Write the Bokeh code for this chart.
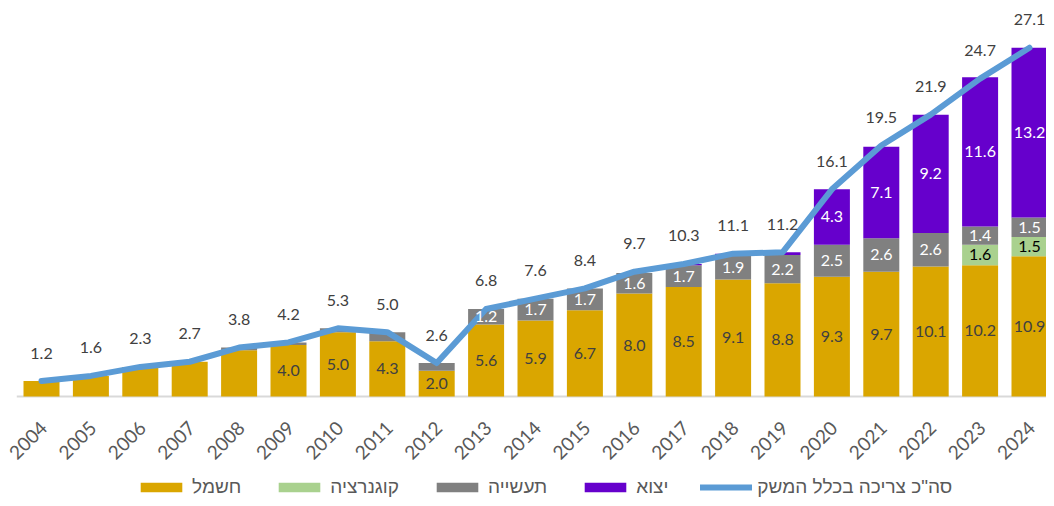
import math
from bokeh.plotting import figure
from bokeh.models import (ColumnDataSource, Range1d, Legend, LegendItem)
from bokeh.core.properties import value
from bokeh.embed import file_html
from bokeh.resources import INLINE

# ---------------- data ----------------
years = list(range(2004, 2025))
year_labels = [str(y) for y in years]
electricity = [1.2, 1.6, 2.3, 2.7, 3.6, 4.0, 5.0, 4.3, 2.0, 5.6, 5.9, 6.7, 8.0, 8.5, 9.1, 8.8,
               9.3, 9.7, 10.1, 10.2, 10.9]
cogeneration = [0, 0, 0, 0, 0, 0, 0, 0, 0, 0, 0, 0, 0, 0, 0, 0, 0, 0, 0, 1.6, 1.5]
industry = [0, 0, 0, 0, 0.2, 0.2, 0.3, 0.7, 0.6, 1.2, 1.7, 1.7, 1.6, 1.7, 1.9, 2.2,
            2.5, 2.6, 2.6, 1.4, 1.5]
export = [0, 0, 0, 0, 0, 0, 0, 0, 0, 0, 0, 0, 0, 0.1, 0.1, 0.2, 4.3, 7.1, 9.2, 11.6, 13.2]
totals = [1.2, 1.6, 2.3, 2.7, 3.8, 4.2, 5.3, 5.0, 2.6, 6.8, 7.6, 8.4, 9.7, 10.3, 11.1, 11.2,
          16.1, 19.5, 21.9, 24.7, 27.1]

series_names = ["חשמל", "קוגנרציה", "תעשייה", "יצוא"]
total_name = 'סה"כ צריכה בכלל המשק'

# ---------------- styling ----------------
C_EL, C_CO, C_IN, C_EX, C_LINE = "#DAA600", "#A9D18E", "#808080", "#6600CC", "#5B9BD5"
NUM_FONT = value("Lato")
HEB_FONT = "Liberation Sans"

def fmt(v, show):
    return f"{v:.1f}" if show else ""

el_lbl = [fmt(v, y >= 2009) for v, y in zip(electricity, years)]
co_lbl = [fmt(v, v > 0) for v in cogeneration]
in_lbl = [fmt(v, v >= 1.0) for v in industry]
ex_lbl = [fmt(v, v >= 1.0) for v in export]
tot_lbl = [f"{v:.1f}" for v in totals]

el_mid = [e / 2 for e in electricity]
co_mid = [e + c / 2 for e, c in zip(electricity, cogeneration)]
in_mid = [e + c + i / 2 for e, c, i in zip(electricity, cogeneration, industry)]
ex_mid = [e + c + i + x / 2 for e, c, i, x in zip(electricity, cogeneration, industry, export)]

src = ColumnDataSource(dict(
    year=years, ylab=year_labels, zero=[0] * len(years),
    el=electricity, co=cogeneration, ind=industry, ex=export, tot=totals,
    el_lbl=el_lbl, co_lbl=co_lbl, in_lbl=in_lbl, ex_lbl=ex_lbl, tot_lbl=tot_lbl,
    el_mid=el_mid, co_mid=co_mid, in_mid=in_mid, ex_mid=ex_mid,
))

W, H = 1046, 498
TOP = 8
BASE = 396          # pixel row of the value axis zero
FIRST_C = 41        # pixel column of the first category centre
px_per_year = 49.4
px_per_unit = 12.87
x0 = years[0] - FIRST_C / px_per_year

p = figure(width=W, height=H, output_backend="svg", toolbar_location=None,
           x_range=Range1d(x0, x0 + W / px_per_year),
           y_range=Range1d(-(H - BASE) / px_per_unit, (BASE - TOP) / px_per_unit),
           min_border_left=0, min_border_right=0, min_border_top=TOP,
           min_border_bottom=0)
p.outline_line_color = None
p.background_fill_color = "white"
p.border_fill_color = "white"
p.xgrid.visible = False
p.ygrid.visible = False
p.xaxis.visible = False
p.yaxis.visible = False

# category axis line (spans the category bands)
p.segment(x0=[years[0] - 0.5], x1=[years[-1] + 0.5], y0=[0], y1=[0],
          line_color="#D9D9D9", line_width=2)

bars = p.vbar_stack(["el", "co", "ind", "ex"], x="year", width=36 / px_per_year,
                    color=[C_EL, C_CO, C_IN, C_EX], line_color=None, source=src)

line = p.line("year", "tot", source=src, line_width=6, line_color=C_LINE,
              line_cap="round", line_join="round")

common = dict(source=src, text_align="center", text_baseline="middle",
              text_font=NUM_FONT, text_font_size="16px")
p.text(x="year", y="el_mid", text="el_lbl", text_color="#404040", **common)
p.text(x="year", y="co_mid", text="co_lbl", text_color="#000000", **common)
p.text(x="year", y="in_mid", text="in_lbl", text_color="#ffffff", **common)
p.text(x="year", y="ex_mid", text="ex_lbl", text_color="#ffffff", **common)
p.text(x="year", y="tot", text="tot_lbl", text_color="#404040", y_offset=-28, **common)

# category (year) tick labels, rotated 45°
p.text(x="year", y="zero", text="ylab", source=src, angle=math.pi / 4,
       text_align="right", text_baseline="middle", x_offset=2, y_offset=28,
       text_font=NUM_FONT, text_font_size="19px", text_color="#595959")

items = [LegendItem(label=n, renderers=[r]) for n, r in zip(series_names, bars)]
items.append(LegendItem(label=total_name, renderers=[line]))
legend = Legend(items=items, orientation="horizontal", location=(135, 0),
                padding=0, margin=0, spacing=32, glyph_width=52, glyph_height=12,
                label_standoff=5, border_line_color=None, background_fill_alpha=0,
                label_text_font=HEB_FONT, label_text_font_size="19px",
                label_text_color="#595959", label_height=14)
p.add_layout(legend)

open("out.html", "w").write(file_html(p, INLINE))
